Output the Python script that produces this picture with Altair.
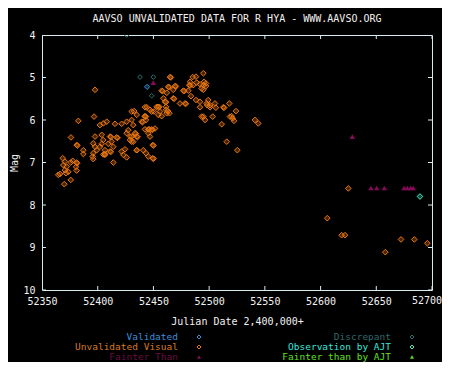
import altair as alt
import pandas as pd

# ---------------- data ----------------
x_ticks = [52350, 52400, 52450, 52500, 52550, 52600, 52650, 52700]
y_ticks = [4, 5, 6, 7, 8, 9, 10]

orange_jd = [
    52364.6, 52366.2, 52368.6, 52370.6, 52369.1, 52372.2, 52370.6, 52373.6, 52371.5, 52375.8,
    52377.6, 52381.1, 52381.5, 52380.5, 52381.1, 52375.8, 52370.0, 52376.0, 52381.1, 52381.8,
    52382.6, 52387.1, 52387.1,
    52397.6, 52396.7, 52402.0, 52405.0, 52408.1, 52415.5, 52421.5, 52426.0, 52430.5, 52397.6,
    52396.0, 52397.6, 52399.1, 52396.0, 52395.5, 52396.0, 52403.6, 52405.0, 52403.6, 52402.0,
    52406.5, 52405.0, 52406.5, 52411.0, 52411.8, 52412.5, 52409.5, 52414.0, 52406.5, 52411.0,
    52411.8, 52417.0, 52417.8, 52414.0, 52421.5, 52424.5, 52423.0, 52426.0, 52426.0, 52427.4,
    52429.0, 52429.0, 52431.9, 52435.0, 52430.5, 52435.0, 52442.4, 52443.2, 52443.3, 52439.5,
    52440.3, 52450.5, 52454.4, 52455.9, 52457.4, 52431.9, 52433.5, 52434.2, 52430.5, 52435.0,
    52435.8, 52430.5, 52445.4, 52446.2, 52448.4, 52449.2, 52451.4, 52442.4, 52445.4, 52446.9,
    52449.3, 52450.1, 52435.0, 52440.9, 52443.3, 52445.4, 52449.3, 52450.1, 52432.7,
    52446.9, 52448.4, 52444.0, 52452.9, 52454.2, 52458.9, 52460.4, 52461.3, 52461.3, 52461.3,
    52461.9, 52457.4, 52458.2, 52463.3, 52464.1, 52462.0, 52464.9, 52465.7, 52469.4, 52470.2,
    52467.8, 52467.8, 52468.6, 52473.8, 52476.8, 52477.6, 52478.3, 52479.1, 52481.3, 52482.2,
    52483.0, 52482.8, 52485.2, 52485.8, 52488.2, 52488.8, 52491.8, 52494.8, 52494.8, 52497.2,
    52483.7, 52488.2, 52491.8, 52497.8, 52499.2, 52505.2, 52512.7, 52513.5, 52491.8, 52500.8,
    52463.0, 52464.4, 52442.4, 52455.3, 52442.4,
    52494.8, 52496.3, 52503.2, 52493.3, 52518.7, 52521.1, 52522.3, 52511.3, 52518.1, 52524.1,
    52520.2, 52541.1, 52544.1, 52515.8, 52525.3, 52495.4, 52497.2, 52493.3, 52494.8, 52498.2,
    52500.8, 52506.0,
    52624.9, 52606.0, 52618.9, 52621.9, 52658.1, 52672.2, 52684.1, 52695.8,
]
orange_mag = [
    7.29, 7.27, 6.90, 6.98, 7.06, 7.10, 7.18, 7.22, 7.25, 7.00,
    6.96, 7.00, 7.02, 7.10, 7.19, 7.41, 7.51, 6.41, 6.59, 6.60,
    6.02, 6.71, 6.80,
    5.29, 5.92, 6.12, 6.08, 6.04, 6.09, 6.09, 6.04, 6.00, 6.39,
    6.55, 6.63, 6.71, 6.78, 6.86, 6.92, 6.35, 6.47, 6.56, 6.63,
    6.71, 6.81, 6.80, 6.39, 6.40, 6.51, 6.56, 6.63, 6.82, 6.74,
    6.75, 6.41, 6.42, 7.00, 6.74, 6.69, 6.82, 6.88, 6.31, 6.24,
    6.39, 6.47, 6.51, 6.71, 5.80, 5.88, 5.91, 5.92, 6.00, 6.04,
    6.05, 5.80, 5.88, 5.80, 5.91, 6.12, 6.31, 6.32, 6.39, 6.39,
    6.40, 6.51, 6.22, 6.22, 6.22, 6.23, 6.20, 6.22, 6.31, 6.39,
    6.59, 6.60, 6.71, 6.71, 6.78, 6.86, 6.90, 6.91, 5.79,
    5.76, 5.80, 5.70, 5.69, 5.69, 5.49, 5.57, 5.58, 5.69, 5.76,
    5.84, 5.31, 5.32, 5.22, 5.23, 5.36, 4.99, 5.00, 5.20, 5.21,
    5.29, 5.49, 5.50, 5.61, 5.31, 5.32, 5.61, 5.62, 5.31, 5.18,
    5.19, 5.10, 4.99, 5.18, 4.98, 5.12, 5.16, 4.90, 5.18, 5.14,
    5.44, 5.53, 5.57, 5.61, 5.53, 5.61, 5.70, 5.71, 5.70, 5.70,
    5.79, 5.84, 5.70, 5.69, 5.92,
    5.92, 6.00, 5.92, 5.92, 5.92, 5.96, 6.02, 6.10, 5.61, 5.79,
    5.91, 6.00, 6.08, 6.51, 6.71, 5.10, 5.20, 5.26, 5.29, 5.65,
    5.65, 5.71,
    7.61, 8.31, 8.71, 8.71, 9.11, 8.81, 8.81, 8.90,
]

validated_jd = [52444.3]
validated_mag = [5.22]

discrepant_jd = [52426.0, 52438.0, 52449.9, 52448.4]
discrepant_mag = [4.00, 4.99, 4.99, 5.43]

fainter_jd = [52449.9, 52628.5, 52645.2, 52650.4, 52657.2, 52674.9, 52677.8, 52680.9, 52683.2]
fainter_mag = [5.12, 6.39, 7.60, 7.60, 7.60, 7.60, 7.60, 7.60, 7.60]

ajt_jd = [52689.2]
ajt_mag = [7.80]

title_text = "AAVSO UNVALIDATED DATA FOR R HYA - WWW.AAVSO.ORG"
x_title = "Julian Date 2,400,000+"
y_title = "Mag"
legend_left = ["Validated", "Unvalidated Visual", "Fainter Than"]
legend_right = ["Discrepant", "Observation by AJT", "Fainter than by AJT"]

# ---------------- styling ----------------
FONT = "DejaVu Sans Mono"
FRAME = "#d8eeee"
TEXT = "#f2f2f2"
ORANGE = "#ea7610"
BLUE = "#3a8fdc"
MAGENTA = "#86095a"
TEAL = "#2c7070"
AQUA = "#3cf0c8"
GREEN = "#5ee020"

xs = alt.Scale(domain=[52350, 52700], nice=False, zero=False)
ys = alt.Scale(domain=[4, 10], nice=False, zero=False, reverse=True)

# the last x label is drawn separately (nudged left so it stays inside the page)
xaxis = alt.Axis(values=x_ticks[:-1], format="d", title=x_title, grid=False, ticks=False,
                 tickSize=0, domain=False, labelPadding=6, labelFont=FONT, labelFontSize=10,
                 labelColor=TEXT, titleFont=FONT, titleFontSize=10, titleFontWeight="normal",
                 titleColor=TEXT, titleY=31.5, titleBaseline="middle", labelFlush=False)
yaxis = alt.Axis(values=y_ticks, format="d", title=y_title, grid=False, ticks=False,
                 tickSize=0, domain=False, labelPadding=7, labelFont=FONT, labelFontSize=10,
                 labelColor=TEXT, titleFont=FONT, titleFontSize=10, titleFontWeight="normal",
                 titleColor=TEXT, titleX=-28, titleY=127.5, titleAngle=270,
                 titleBaseline="middle", titleAlign="center", labelFlush=False)


def X():
    return alt.X("jd:Q", scale=xs, axis=xaxis)


def Y():
    return alt.Y("mag:Q", scale=ys, axis=yaxis)


def frame(jd, mag):
    return pd.DataFrame({"jd": jd, "mag": mag})


layers = []

# data points
layers.append(alt.Chart(frame(orange_jd, orange_mag)).mark_point(
    shape="diamond", size=32, filled=False, fill=ORANGE, fillOpacity=0.3,
    stroke=ORANGE, strokeWidth=1, opacity=1, clip=True).encode(x=X(), y=Y()))
layers.append(alt.Chart(frame(validated_jd, validated_mag)).mark_point(
    shape="diamond", size=26, filled=False, fill=BLUE, fillOpacity=0.3,
    stroke=BLUE, strokeWidth=1, opacity=1, clip=True).encode(x=X(), y=Y()))
layers.append(alt.Chart(frame(discrepant_jd, discrepant_mag)).mark_point(
    shape="diamond", size=22, filled=False, stroke=TEAL, strokeWidth=1, opacity=1,
    clip=True).encode(x=X(), y=Y()))
layers.append(alt.Chart(frame(fainter_jd, fainter_mag)).mark_point(
    shape="triangle-up", size=30, filled=True, color=MAGENTA, opacity=1,
    clip=True).encode(x=X(), y=Y()))
layers.append(alt.Chart(frame(ajt_jd, ajt_mag)).mark_point(
    shape="diamond", size=32, filled=False, fill=AQUA, fillOpacity=0.3,
    stroke=AQUA, strokeWidth=1, opacity=1, clip=True).encode(x=X(), y=Y()))

# inward tick marks on all four sides
xt = pd.DataFrame({"jd": x_ticks * 2, "mag": [y_ticks[0]] * len(x_ticks) + [y_ticks[-1]] * len(x_ticks)})
yt = pd.DataFrame({"mag": y_ticks * 2, "jd": [x_ticks[0]] * len(y_ticks) + [x_ticks[-1]] * len(y_ticks)})
layers.append(alt.Chart(xt).mark_tick(orient="vertical", size=8, thickness=1,
                                      color=FRAME, opacity=1, clip=True).encode(x=X(), y=Y()))
layers.append(alt.Chart(yt).mark_tick(orient="horizontal", size=8, thickness=1,
                                      color=FRAME, opacity=1, clip=True).encode(x=X(), y=Y()))

# last x tick label
last_lab = pd.DataFrame({"jd": [x_ticks[-1]], "mag": [y_ticks[-1]], "t": [str(x_ticks[-1])]})
layers.append(alt.Chart(last_lab).mark_text(
    baseline="top", align="center", dy=6, dx=-5, font=FONT, fontSize=10, color=TEXT
).encode(x=X(), y=Y(), text="t:N"))

# custom legend below the plot
left_colors = [BLUE, "#d67a22", "#6a0e40"]
left_marks = [("diamond", BLUE, False), ("diamond", ORANGE, False), ("triangle-up", MAGENTA, True)]
right_colors = ["#2c6a6a", "#34e6dc", GREEN]
right_marks = [("diamond", TEAL, False), ("diamond", AQUA, False), ("triangle-up", GREEN, True)]
row_y = [302, 312, 322]

for labels, colors, marks, tx, mx in [
    (legend_left, left_colors, left_marks, 136, 157),
    (legend_right, right_colors, right_marks, 349, 370),
]:
    for lab, col, (shp, mcol, fil), ry in zip(labels, colors, marks, row_y):
        d = pd.DataFrame({"label": [lab]})
        layers.append(alt.Chart(d).mark_text(
            align="right", baseline="middle", font=FONT, fontSize=9.5, color=col
        ).encode(text="label:N", x=alt.value(tx), y=alt.value(ry)))
        layers.append(alt.Chart(d).mark_point(
            shape=shp, size=16, filled=fil, color=mcol, opacity=1, strokeWidth=1
        ).encode(x=alt.value(mx), y=alt.value(ry)))

chart = alt.layer(*layers).properties(
    width=390,
    height=255,
    title=alt.TitleParams(title_text, font=FONT, fontSize=10, fontWeight="normal",
                          color=TEXT, anchor="middle", offset=6),
    autosize=alt.AutoSizeParams(type="none"),
    padding={"left": 34, "top": 27, "right": 10, "bottom": 72},
    background="black",
).configure_view(stroke=FRAME, strokeWidth=1, fill="black")

chart.save("out.html", embed_options={"renderer": "svg", "actions": False})
